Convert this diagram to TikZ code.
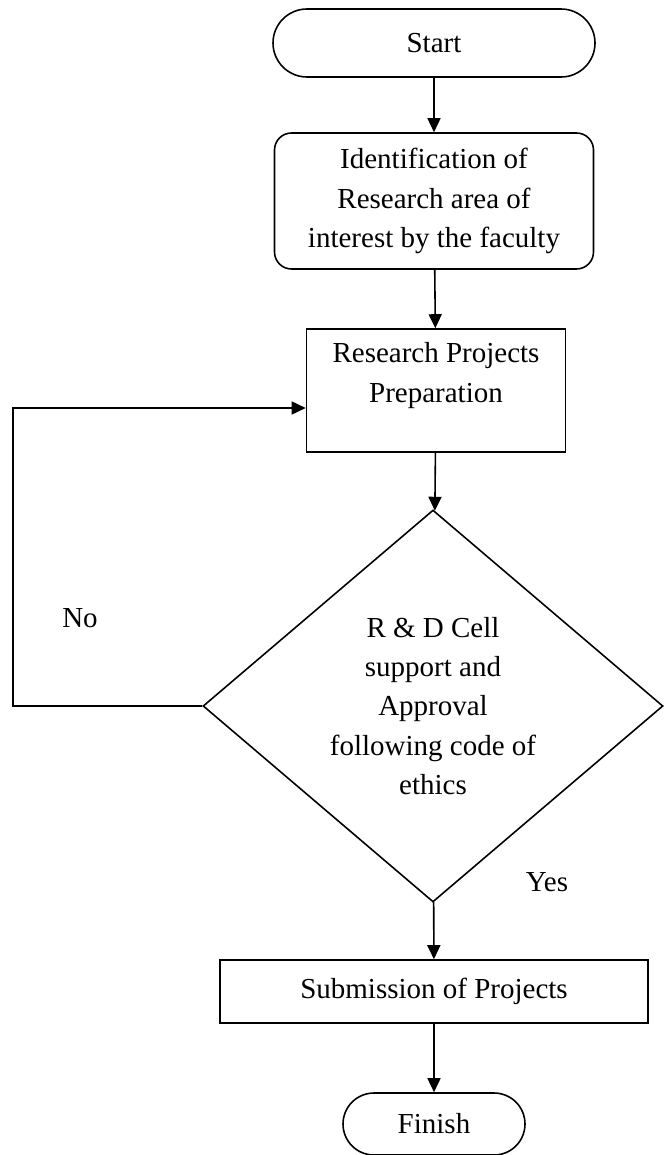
\documentclass[tikz,border=0pt]{standalone}
\usepackage{fontspec}
\setmainfont{Liberation Serif}
\usetikzlibrary{arrows.meta}
\usetikzlibrary{shapes.misc}
\usetikzlibrary{shapes.geometric}
\usetikzlibrary{positioning}

\begin{document}
\begin{tikzpicture}[
    >={Triangle[length=0.28cm, width=0.26cm]},
    % Shape styles for the flowchart
    termbox/.style={draw, line width=0.9pt, rounded rectangle, inner sep=0pt, font=\fontsize{16.5}{22.4}\selectfont},
    procbox/.style={draw, line width=0.9pt, rectangle, inner sep=0pt, align=center, font=\fontsize{16.5}{22.4}\selectfont},
    decbox/.style={draw, line width=0.9pt, diamond, inner sep=0pt, align=center, font=\fontsize{16.5}{22.4}\selectfont},
    flow/.style={->, line width=0.9pt},
    labelstyle/.style={font=\fontsize{16.5}{22.4}\selectfont}
  ]
  \useasboundingbox (0,0) rectangle (13.28,-23.1);

  % =========================================================================
  % MAIN COLUMN
  % =========================================================================
  \node[termbox, minimum width=6.44cm, minimum height=1.36cm] (start) at (8.68,-0.86) {Start};
  \node[procbox, rounded corners=0.34cm, minimum width=6.38cm, minimum height=2.72cm] (ident) at (8.68,-4.02)
    {Identification of\\Research area of\\interest by the faculty};
  \node[procbox, minimum width=5.18cm, minimum height=2.46cm, text depth=0.72cm] (prep) at (8.72,-7.81)
    {Research Projects\\Preparation};
  \node[decbox, minimum width=9.2cm, minimum height=7.84cm] (decide) at (8.66,-14.12)
    {R \& D Cell\\support and\\Approval\\following code of\\ethics};
  \node[procbox, minimum width=8.56cm, minimum height=1.26cm] (submit) at (8.68,-19.83) {Submission of Projects};
  \node[termbox, minimum width=3.64cm, minimum height=1.24cm] (finish) at (8.68,-22.48) {Finish};

  % Flow arrows
  \draw[flow] (start) -- (ident);
  \draw[flow] (ident) -- (prep);
  \draw[flow] (prep) -- (decide);
  \draw[flow] (decide) -- (submit);
  \draw[flow] (submit) -- (finish);

  % =========================================================================
  % NO BRANCH: BACK TO PREPARATION
  % =========================================================================
  \coordinate (loopx) at (0.26,0);
  \coordinate (loopin) at ([yshift=-0.35cm]prep.west);
  \draw[flow] (decide.west) -- (decide.west -| loopx) |- (loopin);

  \node[labelstyle] (nolabel) at (1.6,-12.36) {No};
  \node[labelstyle] (yeslabel) at (10.94,-17.64) {Yes};

\end{tikzpicture}
\end{document}
